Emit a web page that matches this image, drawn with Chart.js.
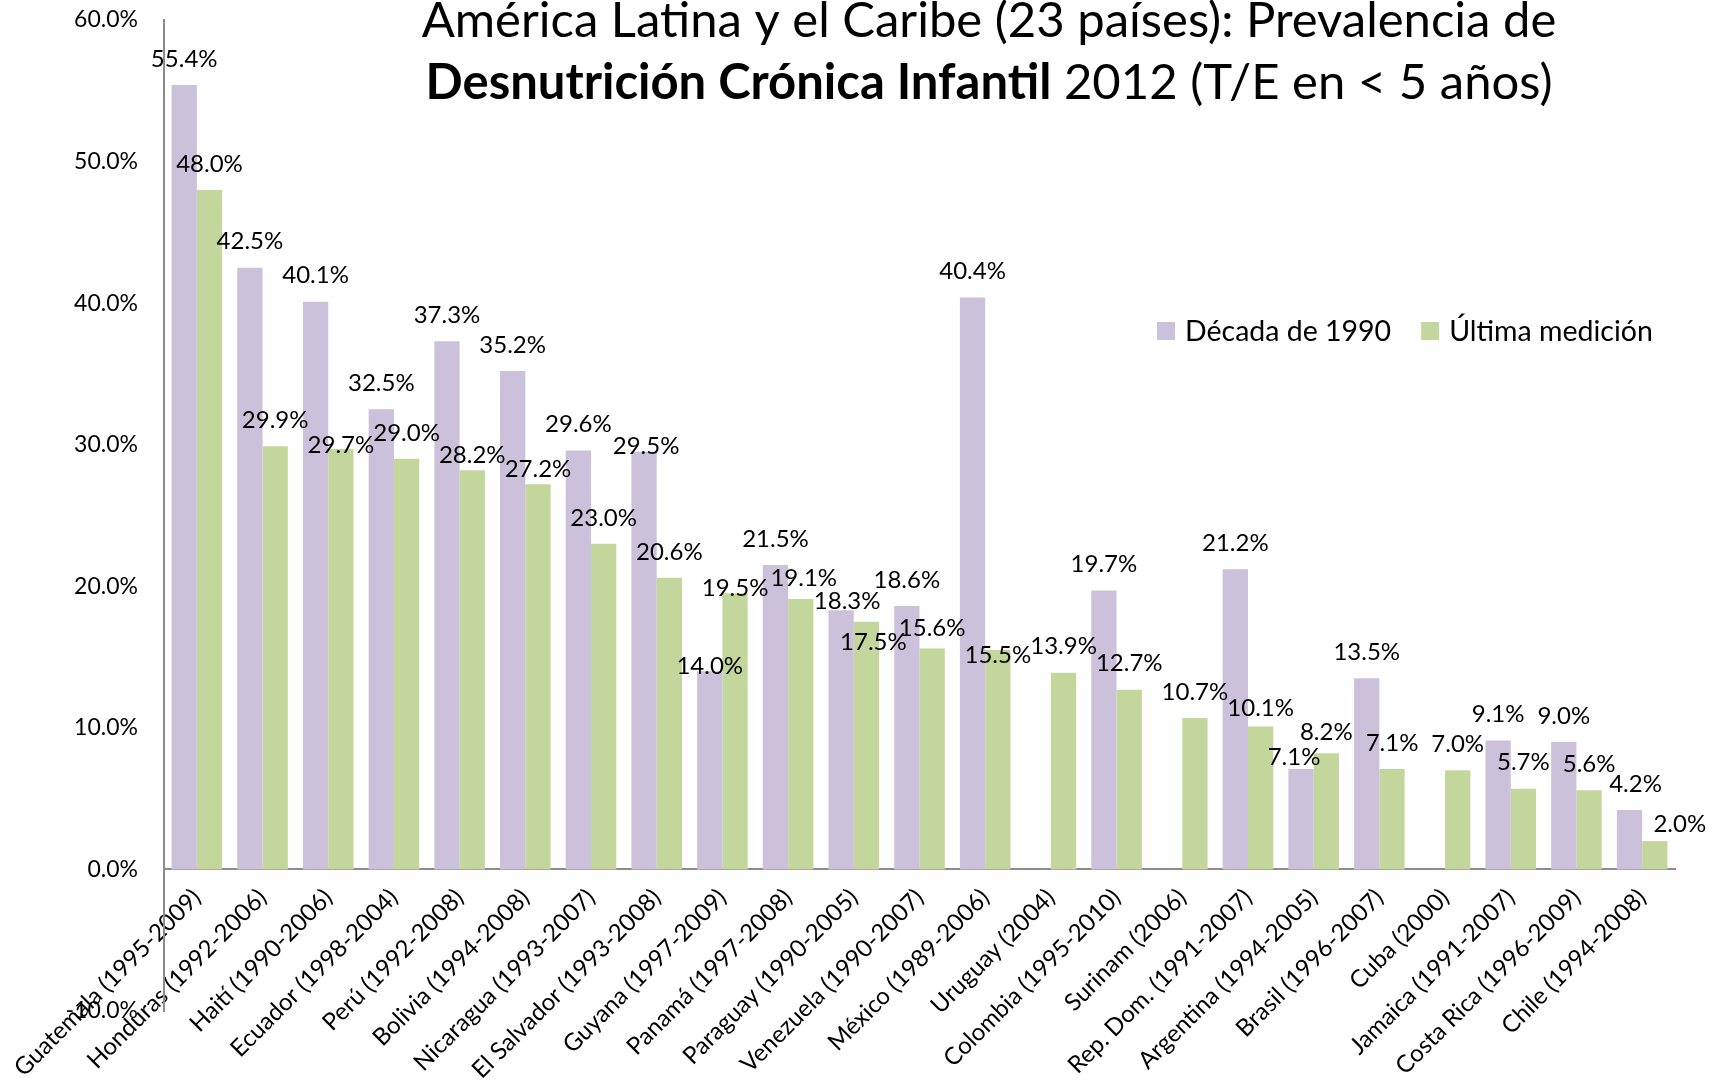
<!DOCTYPE html>
<html>
<head>
<meta charset="utf-8">
<script src="https://cdn.jsdelivr.net/npm/chart.js@4.4.0/dist/chart.umd.min.js"></script>
<style>
  html, body { margin: 0; padding: 0; background: #fff; }
</style>
</head>
<body>
<canvas id="grafico" width="1714" height="1084"></canvas>
<script>
// Datos
var paises = [
  'Guatemala (1995-2009)', 'Honduras (1992-2006)', 'Haití (1990-2006)', 'Ecuador (1998-2004)',
  'Perú (1992-2008)', 'Bolivia (1994-2008)', 'Nicaragua (1993-2007)', 'El Salvador (1993-2008)',
  'Guyana (1997-2009)', 'Panamá (1997-2008)', 'Paraguay (1990-2005)', 'Venezuela (1990-2007)',
  'México (1989-2006)', 'Uruguay (2004)', 'Colombia (1995-2010)', 'Surinam (2006)',
  'Rep. Dom. (1991-2007)', 'Argentina (1994-2005)', 'Brasil (1996-2007)', 'Cuba (2000)',
  'Jamaica (1991-2007)', 'Costa Rica (1996-2009)', 'Chile (1994-2008)'
];
var decada1990 = [55.4, 42.5, 40.1, 32.5, 37.3, 35.2, 29.6, 29.5, 14.0, 21.5, 18.3, 18.6,
  40.4, null, 19.7, null, 21.2, 7.1, 13.5, null, 9.1, 9.0, 4.2];
var ultimaMedicion = [48.0, 29.9, 29.7, 29.0, 28.2, 27.2, 23.0, 20.6, 19.5, 19.1, 17.5, 15.6,
  15.5, 13.9, 12.7, 10.7, 10.1, 8.2, 7.1, 7.0, 5.7, 5.6, 2.0];
var ejeY = { min: -10, max: 60, paso: 10 };

var fuente = 'Lato, "Open Sans", sans-serif';

// desplazamientos de algunas etiquetas que se solapan (dataset-indice: [dx, dy])
var ajustes = {
  '1-2': [0, 22], '1-4': [0, 11], '1-5': [0, 11], '0-7': [2, 20],
  '0-8': [0, 21], '1-8': [0, 21], '1-9': [3, 5],
  '0-10': [6, 17], '1-10': [7, 47], '1-11': [0, 6],
  '1-12': [0, 31], '1-16': [0, 8], '0-17': [-7, 14],
  '1-17': [0, 5], '0-22': [6, 0], '1-22': [25, 9]
};

var etiquetas = {
  id: 'etiquetas',
  afterDatasetsDraw: function (chart) {
    var ctx = chart.ctx;
    ctx.save();
    ctx.font = '24px ' + fuente;
    ctx.fillStyle = '#000';
    ctx.textAlign = 'center';
    ctx.textBaseline = 'middle';
    chart.data.datasets.forEach(function (ds, i) {
      chart.getDatasetMeta(i).data.forEach(function (bar, j) {
        var v = ds.data[j];
        if (v === null || v === undefined) return;
        var a = ajustes[i + '-' + j] || [0, 0];
        ctx.fillText(v.toFixed(1) + '%', bar.x + a[0], bar.y - 26 + a[1]);
      });
    });
    ctx.restore();
  }
};

var tituloYLeyenda = {
  id: 'tituloYLeyenda',
  afterDraw: function (chart) {
    var ctx = chart.ctx;
    ctx.save();
    ctx.fillStyle = '#000';
    ctx.textBaseline = 'alphabetic';
    var cx = 989;
    // linea 1
    ctx.font = '49px ' + fuente;
    ctx.textAlign = 'center';
    ctx.fillText('América Latina y el Caribe (23 países): Prevalencia de', cx, 37);
    // linea 2 (parte en negrita)
    var negrita = 'Desnutrición Crónica Infantil';
    var normal = ' 2012 (T/E en < 5 años)';
    ctx.font = 'bold 49px ' + fuente;
    var w1 = ctx.measureText(negrita).width;
    ctx.font = '49px ' + fuente;
    var w2 = ctx.measureText(normal).width;
    var x0 = cx - (w1 + w2) / 2;
    ctx.textAlign = 'left';
    ctx.font = 'bold 49px ' + fuente;
    ctx.fillText(negrita, x0, 99);
    ctx.font = '49px ' + fuente;
    ctx.fillText(normal, x0 + w1, 99);

    // leyenda
    ctx.font = '28.5px ' + fuente;
    var x = 1157;
    chart.data.datasets.forEach(function (ds) {
      ctx.fillStyle = ds.backgroundColor;
      ctx.fillRect(x, 322, 18, 18);
      ctx.fillStyle = '#000';
      ctx.fillText(ds.label, x + 28, 341);
      x += 28 + ctx.measureText(ds.label).width + 30;
    });
    ctx.restore();
  }
};

var ctx = document.getElementById('grafico').getContext('2d');
var chart = new Chart(ctx, {
  type: 'bar',
  data: {
    labels: paises,
    datasets: [{
      label: 'Década de 1990',
      data: decada1990,
      backgroundColor: '#CCC1DA',
      categoryPercentage: 0.77,
      barPercentage: 1.0
    }, {
      label: 'Última medición',
      data: ultimaMedicion,
      backgroundColor: '#C3D69B',
      categoryPercentage: 0.77,
      barPercentage: 1.0
    }]
  },
  options: {
    responsive: false,
    animation: false,
    layout: { padding: { left: 0, top: 20, right: 39, bottom: 73 } },
    plugins: {
      legend: { display: false },
      title: { display: false },
      tooltip: { enabled: false }
    },
    scales: {
      x: {
        position: { y: 0 },
        grid: { display: false, drawTicks: false },
        border: { display: true, color: '#8C8C8C', width: 2 },
        ticks: {
          color: '#000',
          font: { family: fuente, size: 24 },
          minRotation: 45,
          maxRotation: 45,
          autoSkip: false,
          padding: 14
        }
      },
      y: {
        min: ejeY.min,
        max: ejeY.max,
        // las marcas no se dibujan (grid oculto) pero tickLength separa las etiquetas del eje
        grid: { display: false, drawTicks: true, tickLength: 24 },
        border: { display: true, color: '#8C8C8C', width: 2 },
        afterFit: function (s) { s.width = 164; },
        ticks: {
          stepSize: ejeY.paso,
          color: '#000',
          font: { family: fuente, size: 23 },
          padding: 2,
          callback: function (v) { return v.toFixed(1) + '%'; }
        }
      }
    }
  },
  plugins: [etiquetas, tituloYLeyenda]
});
</script>
</body>
</html>
